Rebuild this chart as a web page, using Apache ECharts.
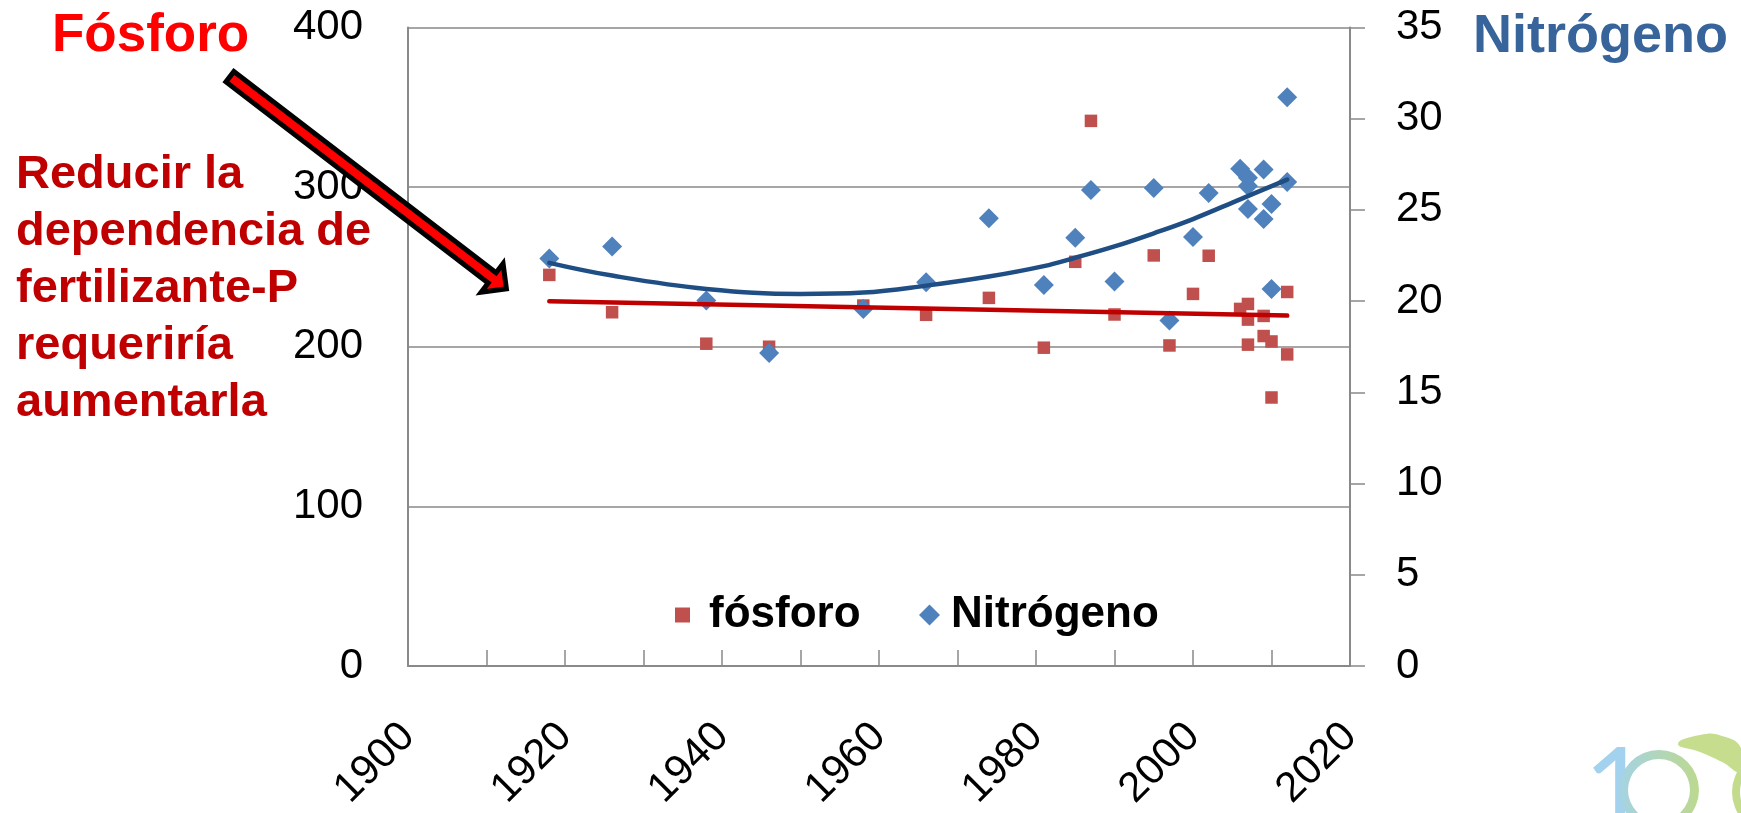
<!DOCTYPE html>
<html>
<head>
<meta charset="utf-8">
<script src="https://cdn.jsdelivr.net/npm/echarts@6/dist/echarts.min.js"></script>
<style>
html,body{margin:0;padding:0;background:#fff;}
#chart{width:1741px;height:813px;}
</style>
</head>
<body>
<div id="chart"></div>
<script>
// ---- data ----
var years = [1918, 1926, 1938, 1946, 1958, 1966, 1974, 1981, 1985, 1987, 1990, 1995, 1997, 2000, 2002, 2006, 2007, 2007, 2007, 2009, 2009, 2010, 2010, 2012, 2012];
var fosforo = [245, 221.6, 201.9, 200, 225.8, 220, 230.6, 199.4, 253.2, 341.5, 220.2, 257.2, 200.8, 233.1, 257, 223.7, 226.8, 217, 201.3, 219.3, 206.7, 203.3, 168.2, 234.3, 195.2];
var nitrogeno = [22.34, 23.0, 20.03, 17.16, 19.57, 21.03, 24.54, 20.89, 23.47, 26.09, 21.07, 26.2, 18.94, 23.52, 25.93, 27.25, 26.77, 26.31, 25.05, 27.22, 24.5, 25.33, 20.67, 31.17, 26.53];
var trendPYears = [1918, 2012];
var trendP = [228.5, 219.5];
var trendNYears = [1918, 1926, 1938, 1950, 1958, 1966, 1974, 1981, 1985, 1990, 1995, 2000, 2006, 2012];
var trendN = [22.1, 21.4, 20.67, 20.39, 20.47, 20.85, 21.35, 21.92, 22.38, 23.0, 23.72, 24.5, 25.58, 26.66];
var leftTicks = [0, 100, 200, 300, 400];
var rightTicks = [0, 5, 10, 15, 20, 25, 30, 35];
var seriesNames = ['fósforo', 'Nitrógeno'];

function pairs(xs, ys) { return xs.map(function (x, i) { return [x, ys[i]]; }); }

var AX_FONT = 'Liberation Sans';
var GRAY = '#898989';

// arrow geometry (annotation)
var tail = [228.3, 75.5], tip = [508, 290];
function arrowPoints() {
  var dx = tip[0] - tail[0], dy = tip[1] - tail[1];
  var L = Math.sqrt(dx * dx + dy * dy);
  var u = [dx / L, dy / L], n = [-u[1], u[0]];
  var st = [[2, -6.5], [L - 20, -6.5], [L - 20, -18], [L - 2, 0], [L - 20, 18], [L - 20, 6.5], [2, 6.5]];
  return st.map(function (p) {
    return [tail[0] + p[0] * u[0] + p[1] * n[0], tail[1] + p[0] * u[1] + p[1] * n[1]];
  });
}

var chart = echarts.init(document.getElementById('chart'));
var option = {
  backgroundColor: '#fff',
  animation: false,
  grid: { left: 408, top: 27.5, width: 942, height: 641 },
  xAxis: {
    type: 'value', min: 1900, max: 2020, interval: 10,
    axisLine: { show: true, lineStyle: { color: GRAY, width: 2 } },
    axisTick: { show: true, inside: true, length: 16, lineStyle: { color: GRAY, width: 1.5 } },
    splitLine: { show: false },
    axisLabel: {
      rotate: 45, margin: 64, fontFamily: AX_FONT, fontSize: 42, color: '#000',
      formatter: function (v) { return (v % 20 === 0) ? String(v) : ''; }
    }
  },
  yAxis: [
    {
      type: 'value', min: 0, max: 400, interval: 100, position: 'left',
      axisLine: { show: true, lineStyle: { color: GRAY, width: 2 } },
      axisTick: { show: false },
      splitLine: { show: true, lineStyle: { color: GRAY, width: 1.5 } },
      axisLabel: { margin: 45, fontFamily: AX_FONT, fontSize: 42, color: '#000' }
    },
    {
      type: 'value', min: 0, max: 35, interval: 5, position: 'right',
      axisLine: { show: true, lineStyle: { color: GRAY, width: 2 } },
      axisTick: { show: true, inside: false, length: 15, lineStyle: { color: GRAY, width: 1.5 } },
      splitLine: { show: false },
      axisLabel: { margin: 46, fontFamily: AX_FONT, fontSize: 42, color: '#000' }
    }
  ],
  legend: [
    {
      data: [{ name: seriesNames[0], icon: 'rect' }],
      left: 675, top: 593, padding: 0,
      itemWidth: 15, itemHeight: 15,
      textStyle: { fontFamily: AX_FONT, fontWeight: 'bold', fontSize: 44, color: '#000', padding: [0, 0, 14, 14] }
    },
    {
      data: [{ name: seriesNames[1], icon: 'diamond' }],
      left: 919, top: 593, padding: 0,
      itemWidth: 21, itemHeight: 21,
      textStyle: { fontFamily: AX_FONT, fontWeight: 'bold', fontSize: 44, color: '#000', padding: [0, 0, 14, 6] }
    }
  ],
  series: [
    {
      name: seriesNames[0], type: 'scatter', yAxisIndex: 0,
      symbol: 'rect', symbolSize: 12.5,
      itemStyle: { color: '#C0504D', opacity: 1 },
      data: pairs(years, fosforo)
    },
    {
      name: seriesNames[1], type: 'scatter', yAxisIndex: 1,
      symbol: 'diamond', symbolSize: 20,
      itemStyle: { color: '#4F81BD', opacity: 1 },
      data: pairs(years, nitrogeno)
    },
    {
      name: 'tendencia P', type: 'line', yAxisIndex: 0, showSymbol: false, symbol: 'none',
      lineStyle: { color: '#C00000', width: 4.5, cap: 'round' },
      data: pairs(trendPYears, trendP)
    },
    {
      name: 'tendencia N', type: 'line', yAxisIndex: 1, showSymbol: false, symbol: 'none', smooth: 0.4,
      lineStyle: { color: '#1F4E85', width: 4.5, cap: 'round' },
      data: pairs(trendNYears, trendN)
    }
  ],
  graphic: [
    {
      type: 'text', left: 52, top: 10, z: 100,
      style: { text: 'Fósforo', font: 'bold 53px "Liberation Sans"', fill: '#FF0000' }
    },
    {
      type: 'text', left: 1473, top: 10, z: 100,
      style: { text: 'Nitrógeno', font: 'bold 54px "Liberation Sans"', fill: '#37649A' }
    },
    {
      type: 'text', left: 16, top: 147, z: 100,
      style: {
        text: 'Reducir la\ndependencia de\nfertilizante-P\nrequeriría\naumentarla',
        font: 'bold 47px "Liberation Sans"', lineHeight: 57, fill: '#C00000'
      }
    },
    {
      type: 'polygon', z: 110,
      shape: { points: arrowPoints() },
      style: { fill: '#FF0000', stroke: '#000', lineWidth: 5, lineJoin: 'miter' }
    },
    {
      type: 'text', left: 1584, top: 736, z: 50,
      style: { text: '1', font: '400 112px Lato', fill: '#A3D2EE' }
    },
    {
      type: 'ring', z: 50,
      shape: { cx: 1659, cy: 790, r: 40, r0: 31 },
      style: { fill: new echarts.graphic.LinearGradient(0, 0, 1, 0, [{ offset: 0, color: '#A5D3E4' }, { offset: 1, color: '#BCD98E' }]) }
    },
    {
      type: 'ring', z: 50,
      shape: { cx: 1774, cy: 792, r: 42, r0: 34 },
      style: { fill: '#C3DC8C' }
    },
    {
      type: 'polygon', z: 51,
      shape: { points: [[1678, 744], [1700, 735], [1722, 736], [1741, 748], [1741, 772], [1722, 762], [1700, 752]], smooth: 0.5 },
      style: { fill: '#C6DD8E' }
    }
  ]
};
chart.setOption(option);
</script>
</body>
</html>
